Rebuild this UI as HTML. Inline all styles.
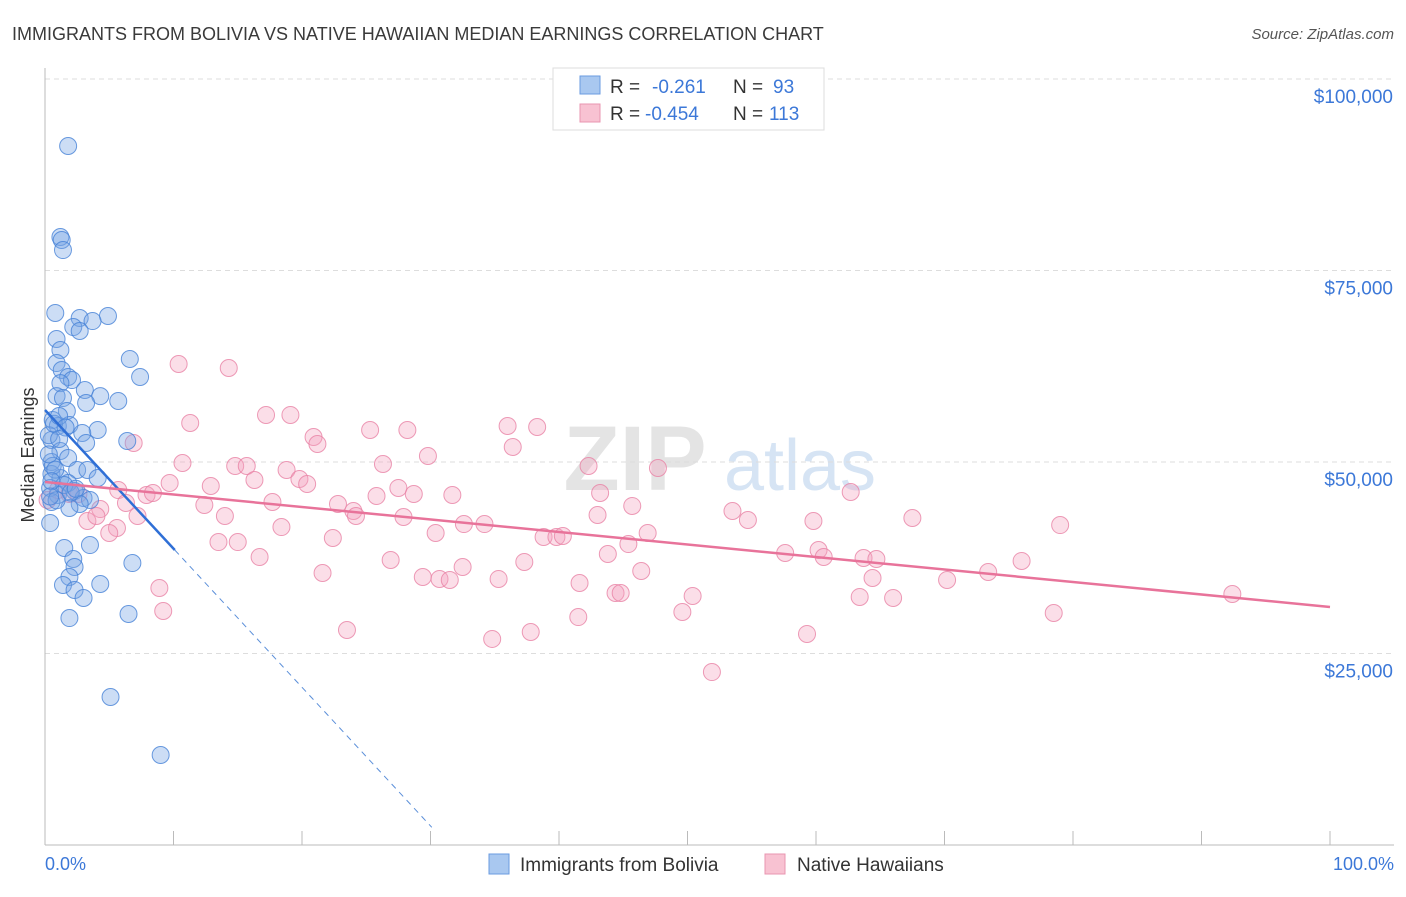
<!DOCTYPE html>
<html><head><meta charset="utf-8"><style>
body{margin:0;background:#fff;font-family:"Liberation Sans",sans-serif}
svg text{font-family:"Liberation Sans",sans-serif}
</style></head><body>
<svg id="chart" width="1406" height="892" xmlns="http://www.w3.org/2000/svg">
<text x="12" y="40" font-size="18" fill="#3a3a3a">IMMIGRANTS FROM BOLIVIA VS NATIVE HAWAIIAN MEDIAN EARNINGS CORRELATION CHART</text>
<text x="1394" y="39" font-size="15" fill="#555" text-anchor="end" font-style="italic">Source: ZipAtlas.com</text>
<g>
<text x="635" y="490" font-size="92" fill="#e4e4e4" text-anchor="middle" font-family="Liberation Serif" font-weight="bold">ZIP</text>
<text x="800" y="490" font-size="72" fill="#d6e4f4" text-anchor="middle">atlas</text>
</g>
<g id="grid"></g>
<g id="axes"></g>
<g id="pts"></g>
<g id="lines"></g>
<text transform="translate(34,455) rotate(-90)" font-size="18" fill="#333" text-anchor="middle">Median Earnings</text>
<text x="45" y="870" font-size="18" fill="#3c78d8">0.0%</text>
<text x="1394" y="870" font-size="18" fill="#3c78d8" text-anchor="end">100.0%</text>
<g>
<rect x="553" y="68" width="271" height="62" fill="#fff" stroke="#ddd"/>
<rect x="580" y="76" width="20" height="18" fill="#a9c8f0" stroke="#6a9be0"/>
<text x="610" y="93" font-size="19" fill="#333">R = </text><text x="652" y="93" font-size="19" fill="#3c78d8">-0.261</text>
<text x="733" y="93" font-size="19" fill="#333">N = </text><text x="773" y="93" font-size="19" fill="#3c78d8">93</text>
<rect x="580" y="104" width="20" height="18" fill="#f8c2d2" stroke="#e995b0"/>
<text x="610" y="120" font-size="19" fill="#333">R = </text><text x="645" y="120" font-size="19" fill="#3c78d8">-0.454</text>
<text x="733" y="120" font-size="19" fill="#333">N = </text><text x="769" y="120" font-size="19" fill="#3c78d8">113</text>
</g>
<g>
<rect x="489" y="854" width="20" height="20" fill="#a9c8f0" stroke="#6a9be0"/>
<text x="520" y="871" font-size="19" fill="#333">Immigrants from Bolivia</text></g>
<g>
<rect x="765" y="854" width="20" height="20" fill="#f8c2d2" stroke="#e995b0"/>
<text x="797" y="871" font-size="19" fill="#333">Native Hawaiians</text></g>
</svg>
<script>
const yTicks=[25000,50000,75000,100000];
const yTickLabels=["$25,000","$50,000","$75,000","$100,000"];
const blueX=[1.8,1.2,1.3,1.4,0.8,4.9,2.7,3.7,2.2,2.7,0.9,1.2,6.6,0.9,1.3,1.8,7.4,2.1,1.2,3.1,4.3,0.9,1.4,5.7,3.2,1.7,0.6,1.0,1.9,4.1,2.9,6.4,0.5,3.2,1.2,1.8,0.5,2.5,3.3,0.5,1.2,4.1,1.8,0.4,2.3,1.0,3.0,3.5,0.5,2.7,1.9,0.4,1.5,3.5,2.2,6.8,2.3,1.9,1.4,4.3,2.3,3.0,6.5,1.9,5.1,9.0,0.3,0.7,1.1,1.5,0.6,0.9,2.0,0.3,0.8,1.6,2.4,0.5,1.1,0.4];
const blueY=[91250,79370,78980,77670,69450,69060,68800,68400,67620,67100,66060,64620,63450,62920,62010,61100,61100,60700,60300,59400,58600,58600,58350,57960,57700,56660,55480,54700,54830,54180,53790,52740,52870,52480,51440,50520,50000,48960,48960,48430,47910,47910,47260,46610,46210,45690,45300,45040,44780,44520,44000,42030,38770,39160,37340,36810,36290,34990,33940,34070,33290,32250,30160,29630,19320,11750,53500,55000,56000,47000,49500,45000,46000,51000,49000,54500,46500,47500,53000,45500];
const pinkX=[10.4,14.3,11.3,17.2,19.1,25.3,28.2,36.0,38.3,20.9,21.2,36.4,6.9,29.8,10.7,14.8,15.7,26.3,42.3,47.7,18.8,12.9,16.3,19.8,20.4,9.7,5.7,7.9,8.4,27.5,25.8,28.7,31.7,43.2,62.7,12.4,17.7,22.8,6.3,4.3,24.0,24.2,45.7,53.5,7.2,14.0,27.9,43.0,54.7,67.5,79.0,59.8,3.3,5.6,18.4,32.6,34.2,30.4,5.0,46.9,38.8,39.8,40.3,22.4,13.5,15.0,45.4,43.8,57.6,60.2,60.6,63.7,64.7,16.7,26.9,37.3,76.0,32.5,46.4,73.4,21.6,29.4,30.7,31.5,35.3,41.6,64.4,70.2,8.9,44.4,44.8,50.4,63.4,66.0,92.4,9.2,49.6,41.5,78.5,23.5,37.8,59.3,34.8,51.9,0.2,1.0,1.9,2.6,4.0];
const pinkY=[62790,62270,55090,56140,56140,54180,54180,54700,54570,53260,52350,51960,52480,50780,49870,49480,49480,49740,49480,49220,48960,46870,47650,47780,47130,47260,46340,45690,45950,46610,45560,45820,45690,45950,46080,44390,44780,44520,44650,43860,43600,42950,44260,43600,42950,42950,42820,43080,42430,42690,41770,42300,42300,41380,41510,41900,41900,40730,40730,40730,40210,40210,40340,40080,39550,39550,39290,37990,38120,38510,37600,37470,37340,37600,37210,36950,37080,36290,35770,35640,35510,34990,34730,34600,34730,34200,34860,34600,33550,32900,32900,32510,32380,32250,32770,30550,30420,29760,30290,28070,27810,27550,26900,22580,45040,46340,45820,45820,42950];
const blueTrend=[56790,-1810];
const pinkTrend=[47390,31070];
const NS="http://www.w3.org/2000/svg";
const X=p=>45+p*12.85;
const Y=v=>845-v/25000*191.5;
function mk(tag,attrs,parent){const e=document.createElementNS(NS,tag);for(const k in attrs)e.setAttribute(k,attrs[k]);parent.appendChild(e);return e;}
const grid=document.getElementById('grid'),axes=document.getElementById('axes'),pts=document.getElementById('pts'),lines=document.getElementById('lines');
yTicks.forEach((t,i)=>{
 const g=mk('line',{x1:45,x2:1394,y1:Y(t),y2:Y(t),stroke:'#ddd','stroke-dasharray':'5,4'},grid);
 
 
 const tx=mk('text',{x:1393,y:Y(t)+24,'font-size':19,fill:'#3c78d8','text-anchor':'end'},axes);
 tx.textContent=yTickLabels[i];
 
 
});
const tl=mk('line',{x1:45,x2:1394,y1:Y(100000),y2:Y(100000),stroke:'#ddd','stroke-dasharray':'5,4'},grid);


const ya=mk('line',{x1:45,x2:45,y1:68,y2:845,stroke:'#bbb'},axes);


const xa=mk('line',{x1:45,x2:1394,y1:845,y2:845,stroke:'#bbb'},axes);


for(let i=0;i<=10;i++){const t=mk('line',{x1:X(i*10),x2:X(i*10),y1:831,y2:845,stroke:'#bbb'},axes);
 
 }
pinkX.forEach((x,i)=>{const c=mk('circle',{cx:X(x),cy:Y(pinkY[i]),r:8.5,fill:'rgba(244,160,188,0.35)',stroke:'rgba(232,130,165,0.8)','stroke-width':1},pts);
 
 });
blueX.forEach((x,i)=>{const c=mk('circle',{cx:X(x),cy:Y(blueY[i]),r:8.5,fill:'rgba(120,165,230,0.38)',stroke:'rgba(70,130,215,0.8)','stroke-width':1},pts);
 
 });
const bf=x=>blueTrend[0]+blueTrend[1]*x;
const b1=mk('line',{x1:X(0),y1:Y(bf(0)),x2:X(10.1),y2:Y(bf(10.1)),stroke:'#2f6fd6','stroke-width':2.5},lines);


const b2=mk('line',{x1:X(10.1),y1:Y(bf(10.1)),x2:X(30.1),y2:Y(bf(30.1)),stroke:'#5b8fd9','stroke-width':1,'stroke-dasharray':'6,5'},lines);


const p1=mk('line',{x1:X(0),y1:Y(pinkTrend[0]),x2:X(100),y2:Y(pinkTrend[1]),stroke:'#e8739a','stroke-width':2.5},lines);


</script>
</body></html>
